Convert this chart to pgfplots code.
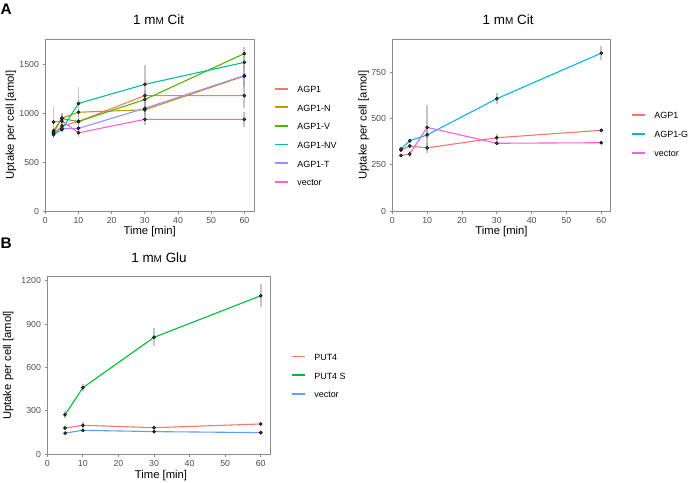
\documentclass[border=0pt]{standalone}
\usepackage{fontspec}
\setmainfont{Liberation Sans}
\usepackage{pgfplots}
\usepackage{pgfplotstable}
\pgfplotsset{compat=1.18}
\definecolor{cA}{HTML}{F8766D}
\definecolor{cN}{HTML}{C49A00}
\definecolor{cV}{HTML}{53B400}
\definecolor{cNV}{HTML}{00C094}
\definecolor{cG}{HTML}{00B6EB}
\definecolor{cT}{HTML}{A58AFF}
\definecolor{cVec}{HTML}{FB61D7}
\definecolor{bG}{HTML}{00BA38}
\definecolor{bB}{HTML}{619CFF}
\definecolor{framec}{HTML}{8C8C8C}
\definecolor{tickc}{HTML}{4D4D4D}
\definecolor{errc}{HTML}{A0A0A0}
\definecolor{ptc}{HTML}{404040}

% Panel A left
\pgfplotstableread{
t y e
2.5 790 30
5 870 40
10 915 40
30 1180 60
60 1180 130
}\aA
\pgfplotstableread{
t y e
2.5 800 30
5 950 40
10 1010 50
30 1035 60
60 1380 110
}\aN
\pgfplotstableread{
t y e
2.5 820 30
5 945 40
10 915 50
30 1140 70
60 1610 70
}\aV
\pgfplotstableread{
t y e
2.5 780 30
5 835 30
10 1100 165
30 1295 200
60 1520 60
}\aNV
\pgfplotstableread{
t y e
2.5 810 30
5 840 30
10 845 40
30 1050 60
60 1385 100
}\aT
\pgfplotstableread{
t y e
2.5 910 160
5 920 80
10 800 40
30 937 60
60 937 75
}\aVec
% Panel A right
\pgfplotstableread{
t y e
2.5 330 10
5 351 12
10 341 25
30 396 20
60 436 8
}\rA
\pgfplotstableread{
t y e
2.5 335 10
5 380 10
10 411 30
30 607 30
60 853 38
}\rG
\pgfplotstableread{
t y e
2.5 300 10
5 308 15
10 452 120
30 366 10
60 369 8
}\rVec
% Panel B
\pgfplotstableread{
t y e
5 180 12
10 199 20
30 182 12
60 208 10
}\bP
\pgfplotstableread{
t y e
5 272 25
10 459 25
30 808 63
60 1096 78
}\bS
\pgfplotstableread{
t y e
5 145 8
10 164 10
30 155 10
60 148 8
}\bVec

\pgfplotsset{
  panel/.style={
    scale only axis,
    xmin=0, ymin=0,
    axis line style={draw=framec, line width=0.9bp},
    tick align=outside,
    xtick pos=bottom, ytick pos=left,
    major tick length=2.8bp,
    tick style={draw=framec, line width=0.9bp},
    ticklabel style={font=\fontsize{8.8}{10}\selectfont, text=tickc},
    /pgf/number format/assume math mode=true,
    /pgf/number format/1000 sep={},
    xtick={0,10,20,30,40,50,60},
    label style={font=\fontsize{11.3}{13}\selectfont},
    every axis title shift=0pt,
    title style={font=\fontsize{13.5}{15}\selectfont},
    legend cell align=left,
    legend image code/.code={\draw[##1] (0bp,2bp) -- (13bp,2bp);},
    legend style={draw=none, fill=none, inner sep=0pt, outer sep=0pt,
      font=\fontsize{9}{10}\selectfont, column sep=8.5bp,
      nodes={inner sep=0pt, text height=6bp, text depth=2bp}},
  },
  ln/.style={line width=1.1bp, mark=none},
  eb/.style={forget plot, draw=none, mark=none,
    error bars/.cd, y dir=both, y explicit, error mark=none,
    error bar style={draw=errc, line width=1.8bp, opacity=0.6}},
  pt/.style={forget plot, only marks, mark=*, mark size=1.6bp,
    mark options={fill=ptc, draw=black, line width=0.4bp}},
}

\newcommand{\mM}{m{\fontsize{10}{11}\selectfont M}}
\newcommand{\leg}[1]{\addlegendimage{line width=1.8bp, color=#1}}

\begin{document}
\begin{tikzpicture}[x=1bp,y=1bp]
\path[use as bounding box] (0,0) rectangle (689,483);

\node[anchor=north west, inner sep=0pt, font=\fontsize{15.4}{17}\selectfont\bfseries] at (0.5,479.7) {A};
\node[anchor=north west, inner sep=0pt, font=\fontsize{15.4}{17}\selectfont\bfseries] at (0.5,245.5) {B};

% ---------- Panel A left
\begin{axis}[panel, at={(45.3bp,272bp)}, anchor=south west,
  width=208.7bp, height=172bp, xmax=62.9, ymax=1759,
  ytick={0,500,1000,1500},
  title={1 \mM\ Cit},
  title style={at={(axis description cs:0.543,1.110)}, anchor=center},
  xlabel={Time [min]},
  xlabel style={at={(axis description cs:0.5,-0.122)}, anchor=center},
  ylabel={Uptake per cell [amol]},
  ylabel style={at={(axis description cs:-0.165,0.5)}, anchor=center, rotate=0},
  legend style={at={(1.0958,0.7227)}, anchor=north west, row sep=10.6bp},
]
\leg{cA} \addlegendentry{AGP1}
\leg{cN} \addlegendentry{AGP1-N}
\leg{cV} \addlegendentry{AGP1-V}
\leg{cNV} \addlegendentry{AGP1-NV}
\leg{cT} \addlegendentry{AGP1-T}
\leg{cVec} \addlegendentry{vector}
\addplot[ln, color=cA, forget plot] table[x=t,y=y]{\aA};
\addplot[ln, color=cN, forget plot] table[x=t,y=y]{\aN};
\addplot[ln, color=cV, forget plot] table[x=t,y=y]{\aV};
\addplot[ln, color=cNV, forget plot] table[x=t,y=y]{\aNV};
\addplot[ln, color=cT, forget plot] table[x=t,y=y]{\aT};
\addplot[ln, color=cVec, forget plot] table[x=t,y=y]{\aVec};
\addplot[eb] table[x=t,y=y,y error=e]{\aA};
\addplot[eb] table[x=t,y=y,y error=e]{\aN};
\addplot[eb] table[x=t,y=y,y error=e]{\aV};
\addplot[eb] table[x=t,y=y,y error=e]{\aNV};
\addplot[eb] table[x=t,y=y,y error=e]{\aT};
\addplot[eb] table[x=t,y=y,y error=e]{\aVec};
\addplot[pt] table[x=t,y=y]{\aA};
\addplot[pt] table[x=t,y=y]{\aN};
\addplot[pt] table[x=t,y=y]{\aV};
\addplot[pt] table[x=t,y=y]{\aNV};
\addplot[pt] table[x=t,y=y]{\aT};
\addplot[pt] table[x=t,y=y]{\aVec};
\end{axis}

% ---------- Panel A right
\begin{axis}[panel, at={(392.3bp,272bp)}, anchor=south west,
  width=218.4bp, height=171.7bp, xmax=62.7, ymax=928,
  ytick={0,250,500,750},
  title={1 \mM\ Cit},
  title style={at={(axis description cs:0.530,1.112)}, anchor=center},
  xlabel={Time [min]},
  xlabel style={at={(axis description cs:0.5,-0.122)}, anchor=center},
  ylabel={Uptake per cell [amol]},
  ylabel style={at={(axis description cs:-0.1305,0.5)}, anchor=center, rotate=0},
  legend style={at={(1.093,0.572)}, anchor=north west, row sep=11bp},
]
\leg{cA} \addlegendentry{AGP1}
\leg{cG} \addlegendentry{AGP1-G}
\leg{cVec} \addlegendentry{vector}
\addplot[ln, color=cA, forget plot] table[x=t,y=y]{\rA};
\addplot[ln, color=cG, forget plot] table[x=t,y=y]{\rG};
\addplot[ln, color=cVec, forget plot] table[x=t,y=y]{\rVec};
\addplot[eb] table[x=t,y=y,y error=e]{\rA};
\addplot[eb] table[x=t,y=y,y error=e]{\rG};
\addplot[eb] table[x=t,y=y,y error=e]{\rVec};
\addplot[pt] table[x=t,y=y]{\rA};
\addplot[pt] table[x=t,y=y]{\rG};
\addplot[pt] table[x=t,y=y]{\rVec};
\end{axis}

% ---------- Panel B
\begin{axis}[panel, at={(47.3bp,29bp)}, anchor=south west,
  width=223.4bp, height=177.3bp, xmax=62.8, ymax=1228,
  ytick={0,300,600,900,1200},
  title={1 \mM\ Glu},
  title style={at={(axis description cs:0.5,1.109)}, anchor=center},
  xlabel={Time [min]},
  xlabel style={at={(axis description cs:0.509,-0.122)}, anchor=center},
  ylabel={Uptake per cell [amol]},
  ylabel style={at={(axis description cs:-0.1746,0.5)}, anchor=center, rotate=0},
  legend style={at={(1.0909,0.5612)}, anchor=north west, row sep=10.7bp},
]
\leg{cA} \addlegendentry{PUT4}
\leg{bG} \addlegendentry{PUT4 S}
\leg{bB} \addlegendentry{vector}
\addplot[ln, color=cA, forget plot] table[x=t,y=y]{\bP};
\addplot[ln, color=bG, forget plot] table[x=t,y=y]{\bS};
\addplot[ln, color=bB, forget plot] table[x=t,y=y]{\bVec};
\addplot[eb] table[x=t,y=y,y error=e]{\bP};
\addplot[eb] table[x=t,y=y,y error=e]{\bS};
\addplot[eb] table[x=t,y=y,y error=e]{\bVec};
\addplot[pt] table[x=t,y=y]{\bP};
\addplot[pt] table[x=t,y=y]{\bS};
\addplot[pt] table[x=t,y=y]{\bVec};
\end{axis}
\end{tikzpicture}
\end{document}
